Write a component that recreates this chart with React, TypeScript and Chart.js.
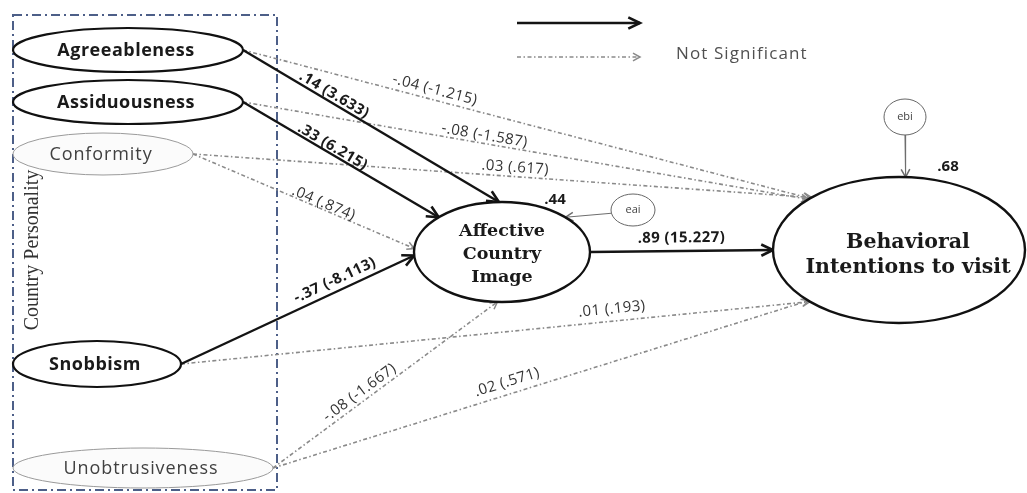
import { useEffect, useRef } from "react";
import { Chart, registerables } from "chart.js";
Chart.register(...registerables);

// ---------------- data ----------------
const constructs = [
  "Agreeableness",
  "Assiduousness",
  "Conformity",
  "Snobbism",
  "Unobtrusiveness",
  "Affective|Country|Image",
  "Behavioral|Intentions to visit",
];
const pathFrom = [0, 1, 3, 5, 0, 1, 2, 2, 3, 4, 4];
const pathTo = [5, 5, 5, 6, 6, 6, 6, 5, 6, 5, 6];
const pathBeta = [0.14, 0.33, -0.37, 0.89, -0.04, -0.08, 0.03, 0.04, 0.01, -0.08, 0.02];
const pathT = [3.633, 6.215, -8.113, 15.227, -1.215, -1.587, 0.617, 0.874, 0.193, -1.667, 0.571];
const pathSignificant = [true, true, true, true, false, false, false, false, false, false, false];
const rSquaredTargets = [5, 6];
const rSquaredValues = [0.44, 0.68];
const errorTerms = ["eai", "ebi"];
const errorTargets = [5, 6];
const groupLabel = "Country Personality";
const legendTexts = ["", "Not Significant"];

// ---------------- layout (positions / sizes / styles) ----------------
type NodeStyle = "strong" | "weak" | "main";
const nodeLayout: { cx: number; cy: number; rx: number; ry: number; style: NodeStyle }[] = [
  { cx: 128, cy: 50, rx: 115, ry: 22, style: "strong" },
  { cx: 128, cy: 102, rx: 115, ry: 22, style: "strong" },
  { cx: 103, cy: 154, rx: 90, ry: 21, style: "weak" },
  { cx: 97, cy: 364, rx: 84, ry: 23, style: "strong" },
  { cx: 143, cy: 468, rx: 130, ry: 20, style: "weak" },
  { cx: 502, cy: 252, rx: 88, ry: 50, style: "main" },
  { cx: 899, cy: 250, rx: 126, ry: 73, style: "main" },
];
// landing angle on target ellipse (deg, y down), label position along the path and offset above it
const pathEndAngle = [-92, -136, 176, 180, -135, -136, -134, -176, 135, 93, 136];
const pathStartAngle = [0, 0, 0, 0, 0, 0, 0, 0, 0, 0, 0];
const pathLabelAt = [0.34, 0.44, 0.68, 0.5, 0.334, 0.425, 0.52, 0.58, 0.687, 0.41, 0.444];
const pathLabelOffset = [8, 7, 11, 13, 10, 8, 9, 6, 12, 9, 12];
const errorLayout = [
  { cx: 633, cy: 210, rx: 22, ry: 16, fromAngle: 168, toAngle: -44 },
  { cx: 905, cy: 117, rx: 21, ry: 18, fromAngle: 90, toAngle: -87 },
];
const rSquaredPos = [
  { x: 555, y: 200 },
  { x: 948, y: 167 },
];
const boxRect = { x0: 13, x1: 277, y0: 15, y1: 490 };
const groupLabelPos = { x: 33, y: 250 };
const legendLayout = { x0: 517, x1: 640, ySolid: 23, yDashed: 57, textX: 676, textY: 54 };

const SOLID = "#141414";
const DASHED = "#8a8a8a";
const DASH = [4, 2.5, 1.5, 2.5];

function ellipsePoint(n: { cx: number; cy: number; rx: number; ry: number }, deg: number) {
  const a = (deg * Math.PI) / 180;
  return { x: n.cx + n.rx * Math.cos(a), y: n.cy + n.ry * Math.sin(a) };
}
function fmtBeta(v: number) {
  return (v < 0 ? "-" : "") + Math.abs(v).toFixed(2).replace(/^0/, "");
}
function fmtT(v: number) {
  return (v < 0 ? "-" : "") + Math.abs(v).toFixed(3).replace(/^0\./, ".");
}

export default function App() {
  const ref = useRef<HTMLCanvasElement | null>(null);
  useEffect(() => {
    document.body.style.margin = "0";
    const canvas = ref.current;
    if (!canvas) return;

    const datasets: any[] = [];
    pathFrom.forEach((f, i) => {
      const s = ellipsePoint(nodeLayout[f], pathStartAngle[i]);
      const e = ellipsePoint(nodeLayout[pathTo[i]], pathEndAngle[i]);
      const sig = pathSignificant[i];
      datasets.push({
        data: [s, e],
        showLine: true,
        pointRadius: 0,
        borderColor: sig ? SOLID : DASHED,
        borderWidth: sig ? 2.4 : 1.6,
        borderDash: sig ? [] : DASH,
        arrowKind: sig ? "solid" : "dashed",
        pathIndex: i,
      });
    });
    errorTerms.forEach((_, i) => {
      const el = errorLayout[i];
      const s = ellipsePoint(el, el.fromAngle);
      const e = ellipsePoint(nodeLayout[errorTargets[i]], el.toAngle);
      datasets.push({
        data: [s, e],
        showLine: true,
        pointRadius: 0,
        borderColor: "#6e6e6e",
        borderWidth: 1.1,
        arrowKind: "thin",
      });
    });
    datasets.push({
      data: [
        { x: legendLayout.x0, y: legendLayout.ySolid },
        { x: legendLayout.x1, y: legendLayout.ySolid },
      ],
      showLine: true,
      pointRadius: 0,
      borderColor: SOLID,
      borderWidth: 2.6,
      arrowKind: "solid",
    });
    datasets.push({
      data: [
        { x: legendLayout.x0, y: legendLayout.yDashed },
        { x: legendLayout.x1, y: legendLayout.yDashed },
      ],
      showLine: true,
      pointRadius: 0,
      borderColor: DASHED,
      borderWidth: 1.6,
      borderDash: DASH,
      arrowKind: "dashed",
    });

    const diagram = {
      id: "diagram",
      beforeDatasetsDraw(chart: any) {
        const ctx = chart.ctx as CanvasRenderingContext2D;
        const xs = chart.scales.x;
        const ys = chart.scales.y;
        // dashed group box
        ctx.save();
        ctx.strokeStyle = "#4d5f88";
        ctx.lineWidth = 2;
        ctx.setLineDash([9, 4, 2, 4]);
        const x0 = xs.getPixelForValue(boxRect.x0);
        const x1 = xs.getPixelForValue(boxRect.x1);
        const y0 = ys.getPixelForValue(boxRect.y0);
        const y1 = ys.getPixelForValue(boxRect.y1);
        ctx.strokeRect(x0, y0, x1 - x0, y1 - y0);
        ctx.restore();
        // group label
        ctx.save();
        ctx.translate(xs.getPixelForValue(groupLabelPos.x), ys.getPixelForValue(groupLabelPos.y));
        ctx.rotate(-Math.PI / 2);
        ctx.font = "20px 'Liberation Serif'";
        ctx.fillStyle = "#333333";
        ctx.textAlign = "center";
        ctx.textBaseline = "middle";
        ctx.fillText(groupLabel, 0, 0);
        ctx.restore();
      },
      afterDatasetsDraw(chart: any) {
        const ctx = chart.ctx as CanvasRenderingContext2D;
        const xs = chart.scales.x;
        const ys = chart.scales.y;
        const px = (v: number) => xs.getPixelForValue(v);
        const py = (v: number) => ys.getPixelForValue(v);
        const sx = (v: number) => Math.abs(xs.getPixelForValue(v) - xs.getPixelForValue(0));
        const sy = (v: number) => Math.abs(ys.getPixelForValue(v) - ys.getPixelForValue(0));

        // arrowheads
        chart.data.datasets.forEach((ds: any, i: number) => {
          const pts = chart.getDatasetMeta(i).data;
          if (pts.length < 2) return;
          const a = pts[pts.length - 2];
          const b = pts[pts.length - 1];
          const ang = Math.atan2(b.y - a.y, b.x - a.x);
          const len = ds.arrowKind === "solid" ? 13 : ds.arrowKind === "dashed" ? 8 : 9;
          const spread = ds.arrowKind === "solid" ? 0.45 : 0.5;
          ctx.save();
          ctx.strokeStyle = ds.borderColor;
          ctx.lineWidth = ds.arrowKind === "solid" ? 2.6 : 1.5;
          ctx.lineJoin = "miter";
          ctx.beginPath();
          ctx.moveTo(b.x - len * Math.cos(ang - spread), b.y - len * Math.sin(ang - spread));
          ctx.lineTo(b.x, b.y);
          ctx.lineTo(b.x - len * Math.cos(ang + spread), b.y - len * Math.sin(ang + spread));
          ctx.stroke();
          ctx.restore();
        });

        // path labels
        chart.data.datasets.forEach((ds: any, i: number) => {
          if (ds.pathIndex === undefined) return;
          const k = ds.pathIndex;
          const pts = chart.getDatasetMeta(i).data;
          const a = pts[0];
          const b = pts[1];
          const t = pathLabelAt[k];
          const mx = a.x + (b.x - a.x) * t;
          const my = a.y + (b.y - a.y) * t;
          const ang = Math.atan2(b.y - a.y, b.x - a.x);
          const off = pathLabelOffset[k];
          const nx = Math.sin(ang) * off;
          const ny = -Math.cos(ang) * off;
          ctx.save();
          ctx.translate(mx + nx, my + ny);
          ctx.rotate(ang);
          ctx.font = (pathSignificant[k] ? "bold " : "") + "15px 'Open Sans'";
          (ctx as any).letterSpacing = "0.4px";
          ctx.fillStyle = pathSignificant[k] ? "#1a1a1a" : "#333333";
          ctx.textAlign = "center";
          ctx.textBaseline = "middle";
          ctx.fillText(`${fmtBeta(pathBeta[k])} (${fmtT(pathT[k])})`, 0, 0);
          ctx.restore();
        });

        // construct ellipses
        nodeLayout.forEach((n, i) => {
          ctx.save();
          ctx.beginPath();
          ctx.ellipse(px(n.cx), py(n.cy), sx(n.rx), sy(n.ry), 0, 0, Math.PI * 2);
          ctx.fillStyle = n.style === "weak" ? "#fbfbfb" : "#ffffff";
          ctx.fill();
          ctx.strokeStyle = n.style === "weak" ? "#9a9a9a" : "#111111";
          ctx.lineWidth = n.style === "weak" ? 1 : n.style === "main" ? 2.4 : 2.2;
          ctx.stroke();
          const lines = constructs[i].split("|");
          ctx.textAlign = "center";
          ctx.textBaseline = "middle";
          if (n.style === "main") {
            const big = i === 6;
            ctx.font = big ? "bold 20.5px 'DejaVu Serif'" : "bold 17.5px 'DejaVu Serif'";
            ctx.fillStyle = "#1a1a1a";
            const lh = big ? 25 : 23;
            const y0 = py(n.cy) - ((lines.length - 1) * lh) / 2 + (big ? 5 : 2);
            lines.forEach((ln, j) => ctx.fillText(ln, px(n.cx) + (big ? 9 : 0), y0 + j * lh));
          } else {
            const strong = n.style === "strong";
            ctx.font = strong ? "bold 18px 'Open Sans'" : "18px 'Open Sans'";
            (ctx as any).letterSpacing = strong ? "0.5px" : "0.9px";
            ctx.fillStyle = strong ? "#1a1a1a" : "#404040";
            ctx.fillText(lines[0], px(n.cx) - 2, py(n.cy) + 1);
          }
          ctx.restore();
        });

        // error terms
        errorTerms.forEach((name, i) => {
          const el = errorLayout[i];
          ctx.save();
          ctx.beginPath();
          ctx.ellipse(px(el.cx), py(el.cy), sx(el.rx), sy(el.ry), 0, 0, Math.PI * 2);
          ctx.fillStyle = "#ffffff";
          ctx.fill();
          ctx.strokeStyle = "#666666";
          ctx.lineWidth = 1;
          ctx.stroke();
          ctx.font = "11px 'Open Sans'";
          ctx.fillStyle = "#444444";
          ctx.textAlign = "center";
          ctx.textBaseline = "middle";
          ctx.fillText(name, px(el.cx), py(el.cy));
          ctx.restore();
        });

        // R squared
        rSquaredTargets.forEach((_, i) => {
          ctx.save();
          ctx.font = "bold 15px 'Open Sans'";
          ctx.fillStyle = "#1a1a1a";
          ctx.textAlign = "center";
          ctx.textBaseline = "middle";
          ctx.fillText(fmtBeta(rSquaredValues[i]), px(rSquaredPos[i].x), py(rSquaredPos[i].y));
          ctx.restore();
        });

        // legend text
        ctx.save();
        ctx.font = "17px 'Open Sans'";
        (ctx as any).letterSpacing = "1.1px";
        ctx.fillStyle = "#505050";
        ctx.textAlign = "left";
        ctx.textBaseline = "middle";
        ctx.fillText(legendTexts[1], px(legendLayout.textX), py(legendLayout.textY));
        ctx.restore();
      },
    };

    const chart = new Chart(canvas, {
      type: "scatter",
      data: { datasets },
      options: {
        animation: false,
        responsive: true,
        maintainAspectRatio: false,
        layout: { padding: 0 },
        scales: {
          x: { type: "linear", min: 0, max: 1027, display: false },
          y: { type: "linear", min: 0, max: 493, reverse: true, display: false },
        },
        plugins: { legend: { display: false }, tooltip: { enabled: false } },
        events: [],
      } as any,
      plugins: [diagram],
    });
    return () => chart.destroy();
  }, []);

  return (
    <div style={{ width: 1027, height: 493, position: "relative", background: "#ffffff" }}>
      <canvas ref={ref} />
    </div>
  );
}
